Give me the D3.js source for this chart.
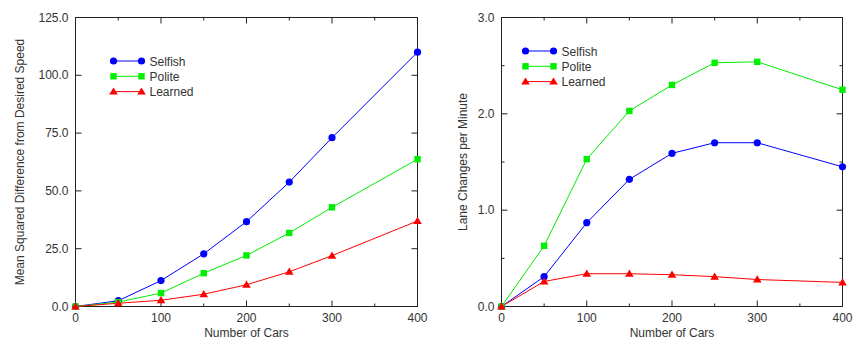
<!DOCTYPE html>
<html><head><meta charset="utf-8">
<script src="https://cdn.jsdelivr.net/npm/d3@7"></script>
<style>body{margin:0;background:#fff}svg{display:block;font-family:"Liberation Sans",Arial,sans-serif}</style>
</head><body><svg id="c" width="857" height="350"></svg>
<script>
const cars = [0, 50, 100, 150, 200, 250, 300, 400];
const seriesNames = ["Selfish", "Polite", "Learned"];
const seriesColors = ["#0000ff", "#00ee00", "#ff0000"];
const seriesShapes = ["circle", "square", "triangle"];
// Left chart: Mean squared difference from desired speed
const mseSelfish = [0, 2.5, 11.2, 22.8, 36.7, 53.8, 73.0, 110.0];
const msePolite  = [0, 1.9, 5.8, 14.4, 22.1, 31.8, 42.9, 63.7];
const mseLearned = [0, 1.4, 2.7, 5.3, 9.4, 15.0, 22.0, 37.0];
// Right chart: lane changes per minute
const lcSelfish = [0, 0.31, 0.87, 1.32, 1.59, 1.70, 1.70, 1.45];
const lcPolite  = [0, 0.63, 1.53, 2.03, 2.30, 2.53, 2.54, 2.25];
const lcLearned = [0, 0.26, 0.34, 0.34, 0.33, 0.31, 0.28, 0.25];
const xTicks = [0, 100, 200, 300, 400];
const xMinor = [50, 150, 250, 350];
const leftYTicks = [0, 25, 50, 75, 100, 125];
const rightYTicks = [0, 1, 2, 3];
const rightYMinor = [0.5, 1.5, 2.5];

const svg = d3.select("#c");

function marker(g, shape, x, y, color) {
  if (shape === "circle") g.append("circle").attr("cx", x).attr("cy", y).attr("r", 3.6).attr("fill", color);
  else if (shape === "square") g.append("rect").attr("x", x - 3.2).attr("y", y - 3.2).attr("width", 6.4).attr("height", 6.4).attr("fill", color);
  else g.append("path").attr("d", `M${x},${y-4.2}L${x+4.3},${y+3}L${x-4.3},${y+3}Z`).attr("fill", color);
}

function chart(cfg) {
  const x = d3.scaleLinear().domain([0, 400]).range([cfg.x0, cfg.x1]);
  const y = d3.scaleLinear().domain([0, cfg.ymax]).range([cfg.y1, cfg.y0]);
  const g = svg.append("g");
  // ticks (inward, mirrored)
  const tk = g.append("g").attr("stroke", "#222").attr("stroke-width", 1);
  xTicks.forEach(v => {
    tk.append("line").attr("x1", x(v)).attr("x2", x(v)).attr("y1", cfg.y1).attr("y2", cfg.y1 - 6);
    tk.append("line").attr("x1", x(v)).attr("x2", x(v)).attr("y1", cfg.y0).attr("y2", cfg.y0 + 6);
  });
  xMinor.forEach(v => {
    tk.append("line").attr("x1", x(v)).attr("x2", x(v)).attr("y1", cfg.y1).attr("y2", cfg.y1 - 3);
    tk.append("line").attr("x1", x(v)).attr("x2", x(v)).attr("y1", cfg.y0).attr("y2", cfg.y0 + 3);
  });
  cfg.yTicks.forEach(v => {
    tk.append("line").attr("x1", cfg.x0).attr("x2", cfg.x0 + 6).attr("y1", y(v)).attr("y2", y(v));
    tk.append("line").attr("x1", cfg.x1).attr("x2", cfg.x1 - 6).attr("y1", y(v)).attr("y2", y(v));
  });
  (cfg.yMinor || []).forEach(v => {
    tk.append("line").attr("x1", cfg.x0).attr("x2", cfg.x0 + 3).attr("y1", y(v)).attr("y2", y(v));
    tk.append("line").attr("x1", cfg.x1).attr("x2", cfg.x1 - 3).attr("y1", y(v)).attr("y2", y(v));
  });
  // frame
  g.append("rect").attr("x", cfg.x0).attr("y", cfg.y0).attr("width", cfg.x1 - cfg.x0).attr("height", cfg.y1 - cfg.y0)
    .attr("fill", "none").attr("stroke", "#222").attr("stroke-width", 1);
  // tick labels
  xTicks.forEach(v => g.append("text").attr("x", x(v)).attr("y", cfg.y1 + 15).attr("text-anchor", "middle")
    .attr("font-size", 12).attr("fill", "#333").text(v));
  cfg.yTicks.forEach(v => g.append("text").attr("x", cfg.x0 - 7).attr("y", y(v) + 4).attr("text-anchor", "end")
    .attr("font-size", 12).attr("fill", "#333").text(v.toFixed(1)));
  g.append("text").attr("x", (cfg.x0 + cfg.x1) / 2).attr("y", 337).attr("text-anchor", "middle")
    .attr("font-size", 12).attr("fill", "#333").text("Number of Cars");
  g.append("text").attr("transform", `translate(${cfg.ylx},${(cfg.y0 + cfg.y1) / 2}) rotate(-90)`)
    .attr("text-anchor", "middle").attr("font-size", 12).attr("fill", "#333").text(cfg.ylabel);
  // series
  const line = d3.line().x((d, i) => x(cars[i])).y(d => y(d));
  cfg.series.forEach((s, k) => {
    g.append("path").attr("d", line(s)).attr("fill", "none").attr("stroke", seriesColors[k]).attr("stroke-width", 1);
  });
  cfg.series.forEach((s, k) => {
    s.forEach((v, i) => marker(g, seriesShapes[k], x(cars[i]), y(v), seriesColors[k]));
  });
  // legend
  seriesNames.forEach((n, k) => {
    const ly = cfg.ly + k * 15.3;
    g.append("line").attr("x1", cfg.lx).attr("x2", cfg.lx + 28).attr("y1", ly).attr("y2", ly)
      .attr("stroke", seriesColors[k]).attr("stroke-width", 1);
    marker(g, seriesShapes[k], cfg.lx, ly, seriesColors[k]);
    marker(g, seriesShapes[k], cfg.lx + 28, ly, seriesColors[k]);
    g.append("text").attr("x", cfg.lx + 36).attr("y", ly + 4.5).attr("font-size", 12).attr("fill", "#333").text(n);
  });
}

chart({x0: 75.5, x1: 417.5, y0: 17.5, y1: 306.5, ymax: 125, yTicks: leftYTicks,
  ylabel: "Mean Squared Difference from Desired Speed", ylx: 24,
  series: [mseSelfish, msePolite, mseLearned], lx: 113.5, ly: 61});
chart({x0: 501.5, x1: 842.5, y0: 17.5, y1: 306.5, ymax: 3, yTicks: rightYTicks, yMinor: rightYMinor,
  ylabel: "Lane Changes per Minute", ylx: 467,
  series: [lcSelfish, lcPolite, lcLearned], lx: 525.5, ly: 51});
</script></body></html>
